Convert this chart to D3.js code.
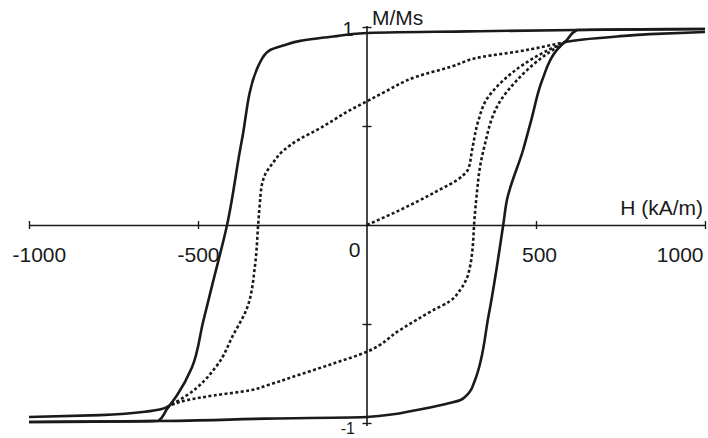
<!DOCTYPE html>
<html>
<head>
<meta charset="utf-8">
<script src="https://cdn.jsdelivr.net/npm/d3@7"></script>
<style>
  body { margin: 0; background: #fff; }
</style>
</head>
<body>
<div id="chart"></div>
<script>
// major loop, descending branch (H from +1000 to -1000)
const majorDownH = [1000, 800, 621, 300, 0, -100, -198, -250, -285, -300, -312, -325, -370, -414, -456, -485, -518, -562, -592, -618, -800, -1000];
const majorDownM = [0.99, 0.988, 0.985, 0.978, 0.97, 0.952, 0.93, 0.905, 0.885, 0.865, 0.835, 0.79, 0.43, 0, -0.29, -0.49, -0.72, -0.86, -0.93, -0.99, -0.993, -0.995];
// major loop, ascending branch
const majorUpH = [-1000, -800, -618, -300, 0, 148, 230, 275, 292, 305, 318, 360, 403, 414, 462, 486, 518, 562, 591, 621, 800, 1000];
const majorUpM = [-0.995, -0.993, -0.99, -0.978, -0.97, -0.934, -0.905, -0.885, -0.865, -0.84, -0.79, -0.455, 0, 0.126, 0.38, 0.53, 0.73, 0.884, 0.934, 0.985, 0.988, 0.99];
// solid tails beyond the minor loop tips
const tailRightH = [586, 640, 740, 837, 1000];
const tailRightM = [0.924, 0.937, 0.952, 0.964, 0.975];
const tailLeftH = [-1000, -790, -642, -592];
const tailLeftM = [-0.97, -0.96, -0.94, -0.92];
// initial magnetisation curve (dotted)
const initH = [0, 98, 195, 284, 299, 311, 330, 356, 403, 462, 521, 586];
const initM = [0, 0.076, 0.16, 0.25, 0.28, 0.38, 0.53, 0.64, 0.73, 0.81, 0.87, 0.924];
// minor loop, descending (dotted)
const minorDownH = [586, 521, 443, 343, 250, 148, 50, 0, -50, -148, -198, -248, -280, -300, -310, -317, -322, -331, -355, -396, -444, -533, -592];
const minorDownM = [0.924, 0.9, 0.875, 0.85, 0.8, 0.75, 0.67, 0.625, 0.58, 0.48, 0.435, 0.375, 0.31, 0.26, 0.21, 0.11, 0, -0.2, -0.42, -0.556, -0.71, -0.86, -0.92];
// minor loop, ascending (dotted)
const minorUpH = [-592, -533, -450, -346, -296, -198, -100, 0, 98, 196, 245, 275, 295, 306, 311, 318, 325, 334, 352, 370, 392, 443, 521, 586];
const minorUpM = [-0.92, -0.885, -0.86, -0.835, -0.81, -0.755, -0.70, -0.64, -0.53, -0.43, -0.385, -0.33, -0.27, -0.2, -0.14, 0.03, 0.16, 0.29, 0.43, 0.54, 0.62, 0.73, 0.85, 0.924];

const xTicks = [-1000, -500, 0, 500, 1000];
const yTicks = [-1, -0.5, 0.5, 1];

const width = 708;
const height = 438;
const fontFamily = "'Liberation Sans', Arial, sans-serif";
const ink = "#1a1a1a";

const x = d3.scaleLinear().domain([-1000, 1000]).range([29, 705]);
const y = d3.scaleLinear().domain([-1, 1]).range([423, 27]);

const svg = d3.select("#chart")
    .append("svg")
    .attr("width", width)
    .attr("height", height)
    .style("background-color", "#fff");

// x axis through M = 0
const xAxis = d3.axisBottom(x)
    .tickValues(xTicks)
    .tickSize(4)
    .tickSizeOuter(0)
    .tickFormat(d => String(d));

const gx = svg.append("g")
    .attr("transform", "translate(0," + y(0) + ")")
    .call(xAxis);
gx.select(".domain").attr("stroke", ink).attr("stroke-width", 1.6);
gx.selectAll(".tick line")
    .attr("y1", -4)
    .attr("stroke", ink)
    .attr("stroke-width", 1.4)
    .filter(d => d === 0).remove();
gx.selectAll(".tick text")
    .style("font-size", "21px")
    .style("font-family", fontFamily)
    .attr("fill", ink)
    .attr("dy", null)
    .attr("y", d => d === 0 ? 32 : 37)
    .attr("text-anchor", d => d === -1000 ? "start" : d === 1000 ? "end" : d === 0 ? "end" : "middle")
    .attr("x", d => d === -1000 ? -17 : d === 1000 ? -2 : d === 0 ? -7 : d === 500 ? 3 : 0);

// y axis through H = 0
const yAxis = d3.axisLeft(y)
    .tickValues(yTicks)
    .tickSize(4.5)
    .tickSizeOuter(0)
    .tickFormat(d => Math.abs(d) === 1 ? String(d) : "");

const gy = svg.append("g")
    .attr("transform", "translate(" + x(0) + ",0)")
    .call(yAxis);
gy.select(".domain")
    .attr("d", "M0," + (y(1) - 1) + "V" + (y(-1) + 3))
    .attr("stroke", ink)
    .attr("stroke-width", 1.6);
gy.selectAll(".tick line")
    .attr("x1", 4.5)
    .attr("stroke", ink)
    .attr("stroke-width", 1.4);
gy.selectAll(".tick text")
    .style("font-size", d => d > 0 ? "20px" : "16px")
    .style("font-family", fontFamily)
    .attr("fill", ink)
    .attr("dy", null)
    .attr("text-anchor", d => d > 0 ? "middle" : "end")
    .attr("x", d => d > 0 ? -19 : -12)
    .attr("y", d => d > 0 ? 8 : 10);

// axis titles
svg.append("text")
    .attr("x", x(0) + 5)
    .attr("y", 25)
    .style("font-size", "21px")
    .style("font-family", fontFamily)
    .attr("fill", ink)
    .text("M/Ms");

svg.append("text")
    .attr("x", 703)
    .attr("y", y(0) - 10)
    .attr("text-anchor", "end")
    .style("font-size", "21px")
    .style("font-family", fontFamily)
    .attr("fill", ink)
    .text("H (kA/m)");

// curves: every branch is monotonic in M, so interpolate H as a function of M
const pts = (hs, ms) => hs.map((h, i) => [h, ms[i]]).sort((a, b) => a[1] - b[1]);
const lineGen = d3.line()
    .x(d => x(d[0]))
    .y(d => y(d[1]))
    .curve(d3.curveMonotoneY);

const solid = [
    pts(majorDownH, majorDownM),
    pts(majorUpH, majorUpM),
    pts(tailRightH, tailRightM),
    pts(tailLeftH, tailLeftM)
];
const dotted = [
    pts(initH, initM),
    pts(minorDownH, minorDownM),
    pts(minorUpH, minorUpM)
];

svg.append("g")
    .selectAll("path")
    .data(solid)
    .join("path")
    .attr("d", lineGen)
    .attr("fill", "none")
    .attr("stroke", ink)
    .attr("stroke-width", 2.6)
    .attr("stroke-linejoin", "round");

svg.append("g")
    .selectAll("path")
    .data(dotted)
    .join("path")
    .attr("d", lineGen)
    .attr("fill", "none")
    .attr("stroke", ink)
    .attr("stroke-width", 2.6)
    .attr("stroke-dasharray", "3,2.4");
</script>
</body>
</html>
